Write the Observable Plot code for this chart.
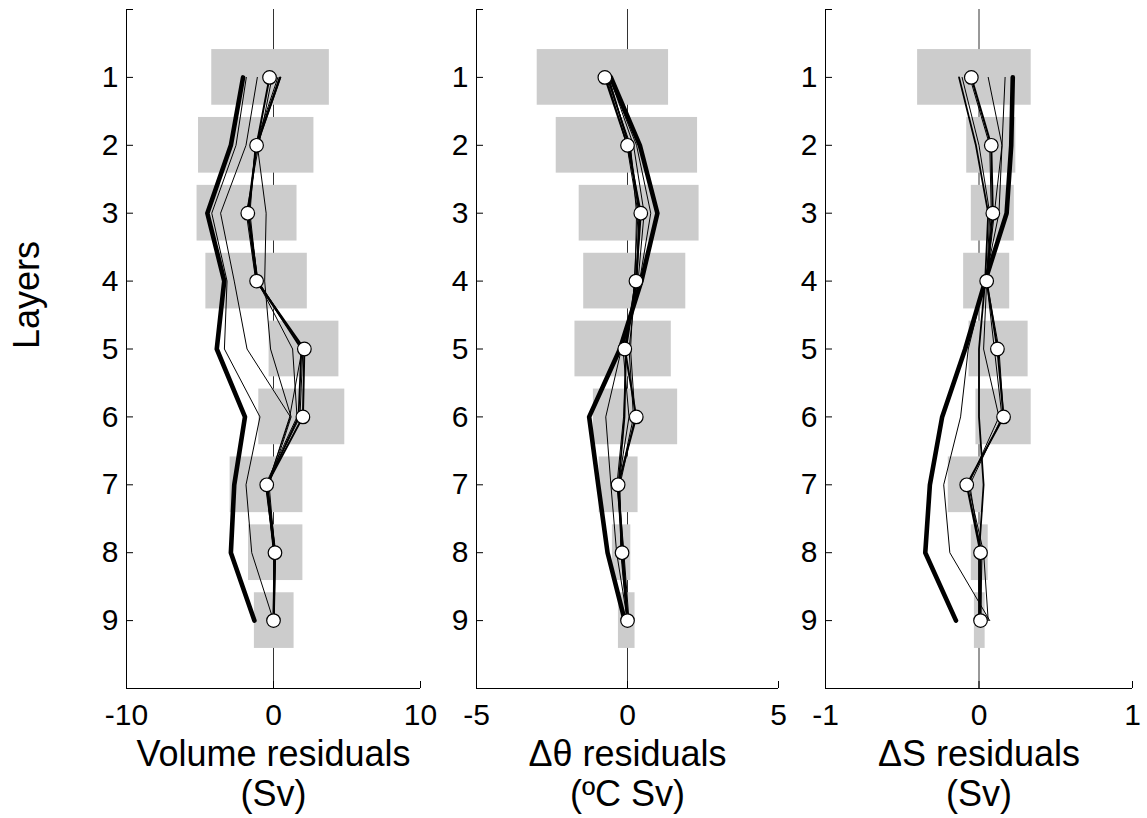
<!DOCTYPE html>
<html>
<head>
<meta charset="utf-8">
<script src="https://cdn.jsdelivr.net/npm/d3@7"></script>
<script src="https://cdn.jsdelivr.net/npm/@observablehq/plot@0.6"></script>
<style>
  html, body { margin: 0; padding: 0; background: #fff; }
  #wrap { position: relative; width: 1147px; height: 818px; overflow: hidden; }
  #wrap svg { position: absolute; top: 0; max-width: none; }
</style>
</head>
<body>
<div id="wrap"></div>
<script>
// ---------- data ----------
const layers = [1, 2, 3, 4, 5, 6, 7, 8, 9];
const layerTicks = [0, 1, 2, 3, 4, 5, 6, 7, 8, 9, 10];
const layerLabels = [1, 2, 3, 4, 5, 6, 7, 8, 9];

// Volume residuals (Sv)
const volTicks = [-10, 0, 10];
const volBarLo = [-4.2, -5.1, -5.2, -4.6, -0.3, -1.0, -2.95, -1.7, -1.3];
const volBarHi = [3.8, 2.75, 1.6, 2.3, 4.45, 4.85, 2.0, 2.0, 1.4];
const volThick = [-2.07, -2.9, -4.5, -3.35, -3.86, -1.94, -2.67, -2.9, -1.3];
const volCircle = [-0.27, -1.15, -1.75, -1.15, 2.1, 2.0, -0.46, 0.1, 0.0];
const volThinA = [-1.85, -2.55, -4.2, -3.16, -3.34, -0.92, -1.87, -1.48, 0.0];
const volThinB = [-1.1, -1.87, -3.6, -2.67, -1.8, 1.15, -0.4, 0.1, 0.0];
const volThinC1 = [0.5, -1.1, -0.5, -0.6, -0.2, 1.2, -0.3, 0.1, 0.0];
const volThinC2 = [0.3, -1.25, -1.6, -1.1, 1.3, 1.6, -0.55, 0.05, 0.0];
const volThinC3 = [-0.1, -1.0, -1.85, -1.2, 1.95, 1.1, -0.4, 0.15, 0.05];
const volThinC4 = [0.4, -1.2, -1.7, -1.05, 2.0, 1.8, -0.5, 0.0, 0.0];
const volMedium = [0.45, -1.15, -1.7, -1.1, 1.9, 1.7, -0.45, 0.05, 0.0];

// Δθ residuals (ºC Sv)
const thTicks = [-5, 0, 5];
const thBarLo = [-2.99, -2.36, -1.6, -1.45, -1.74, -1.13, -0.94, -0.5, -0.3];
const thBarHi = [1.36, 2.32, 2.37, 1.93, 1.45, 1.66, 0.35, 0.11, 0.25];
const thThick = [-0.55, 0.41, 0.99, 0.46, -0.25, -1.27, -0.97, -0.66, -0.09];
const thCircle = [-0.75, 0.0, 0.44, 0.28, -0.09, 0.29, -0.31, -0.18, 0.0];
const thThinB = [-0.6, 0.3, 0.77, 0.4, -0.2, -0.72, -0.55, -0.36, 0.0];
const thThinC1 = [-0.68, 0.1, 0.3, 0.25, -0.05, -0.13, -0.35, -0.15, 0.02];
const thThinC2 = [-0.62, 0.05, 0.38, 0.3, 0.05, 0.2, -0.28, -0.2, 0.0];
const thThinC3 = [-0.58, 0.2, 0.55, 0.35, -0.15, 0.05, -0.3, -0.12, 0.05];
const thThinC4 = [-0.7, -0.02, 0.35, 0.22, 0.1, 0.25, -0.25, -0.22, -0.02];
const thMedium = [-0.65, 0.05, 0.4, 0.3, -0.05, -0.1, -0.3, -0.15, 0.0];

// ΔS residuals (Sv)
const sTicks = [-1, 0, 1];
const sBarLo = [-0.40, -0.08, -0.05, -0.10, -0.065, -0.02, -0.20, -0.05, -0.03];
const sBarHi = [0.34, 0.24, 0.23, 0.20, 0.32, 0.34, 0.03, 0.06, 0.04];
const sThick = [0.22, 0.21, 0.18, 0.04, -0.09, -0.24, -0.32, -0.35, -0.15];
const sCircle = [-0.05, 0.08, 0.09, 0.05, 0.12, 0.16, -0.08, 0.01, 0.01];
const sThinB = [0.17, 0.15, 0.13, 0.04, -0.07, -0.12, -0.23, -0.19, 0.07];
const sThinC1 = [-0.11, 0.0, 0.07, 0.05, 0.03, 0.13, -0.07, 0.03, 0.06];
const sThinC2 = [0.06, 0.15, 0.1, 0.05, 0.1, 0.15, -0.06, 0.01, 0.0];
const sThinC3 = [-0.06, 0.07, 0.08, 0.05, 0.13, 0.16, -0.08, 0.02, 0.01];
const sMedium = [-0.13, -0.02, 0.06, 0.04, 0.0, 0.0, 0.03, 0.0, 0.0];

const FONT = "'Liberation Sans', Arial, Helvetica, sans-serif";

function rows(arr, name) {
  return layers.map((l, i) => ({layer: l, value: arr[i], series: name}));
}

function panel(cfg) {
  const bars = layers.map((l, i) => ({layer: l, lo: cfg.lo[i], hi: cfg.hi[i]}));
  const thin = cfg.thin.flatMap((a, k) => rows(a, "thin" + k));
  const circ = rows(cfg.circle, "circle");
  const marks = [
    Plot.ruleX([0], {stroke: "#333", strokeWidth: 1}),
    Plot.rect(bars, {x1: "lo", x2: "hi", y1: d => d.layer - 0.41, y2: d => d.layer + 0.41, fill: "#cccccc"}),
    Plot.line(thin, {x: "value", y: "layer", z: "series", stroke: "#000", strokeWidth: 1}),
    Plot.line(rows(cfg.medium, "medium"), {x: "value", y: "layer", stroke: "#000", strokeWidth: 1.8}),
    Plot.line(rows(cfg.thick, "thick"), {x: "value", y: "layer", stroke: "#000", strokeWidth: 4.6, strokeLinecap: "round"}),
    Plot.line(circ, {x: "value", y: "layer", stroke: "#000", strokeWidth: 2}),
    Plot.dot(circ, {x: "value", y: "layer", r: 6.8, fill: "#fff", stroke: "#000", strokeWidth: 1.2}),
    Plot.ruleX([cfg.domain[0]], {stroke: "#000", strokeWidth: 1}),
    Plot.ruleY([10], {stroke: "#000", strokeWidth: 1}),
    Plot.axisY({ticks: layerTicks, tickSize: -7, tickFormat: () => "", label: null}),
    Plot.axisY({ticks: layerLabels, tickSize: 0, tickPadding: 8, fontSize: 30, tickFormat: d => String(d), label: null}),
    Plot.axisX({ticks: cfg.ticks, tickSize: -7, tickFormat: () => "", label: null}),
    Plot.axisX({ticks: cfg.ticks, tickSize: 0, tickPadding: 15, fontSize: 30, tickFormat: d => String(d), label: null}),
    Plot.text([cfg.title], {frameAnchor: "bottom", lineAnchor: "top", dy: 49, fontSize: 36, lineHeight: 1.12})
  ];
  if (cfg.ylabel) {
    marks.push(Plot.text([cfg.ylabel], {frameAnchor: "left", dx: -99, rotate: -90, fontSize: 36}));
  }
  const svg = Plot.plot({
    width: cfg.width,
    height: 818,
    marginLeft: cfg.mL,
    marginRight: cfg.mR,
    marginTop: 9,
    marginBottom: 130,
    x: {domain: cfg.domain, axis: null},
    y: {domain: [0, 10], reverse: true, axis: null},
    style: {fontFamily: FONT, background: "transparent", overflow: "visible", color: "#000"},
    marks
  });
  svg.style.left = cfg.left + "px";
  return svg;
}

const wrap = document.getElementById("wrap");
wrap.append(panel({
  left: 0, width: 430, mL: 126, mR: 10, domain: [-10, 10], ticks: volTicks,
  lo: volBarLo, hi: volBarHi, thick: volThick, circle: volCircle, medium: volMedium,
  thin: [volThinA, volThinB, volThinC1, volThinC2, volThinC3, volThinC4],
  title: "Volume residuals\n(Sv)", ylabel: "Layers"
}));
wrap.append(panel({
  left: 430, width: 360, mL: 46, mR: 12, domain: [-5, 5], ticks: thTicks,
  lo: thBarLo, hi: thBarHi, thick: thThick, circle: thCircle, medium: thMedium,
  thin: [thThinB, thThinC1, thThinC2, thThinC3, thThinC4],
  title: "\u0394\u03b8 residuals\n(\u00baC Sv)"
}));
wrap.append(panel({
  left: 790, width: 357, mL: 35, mR: 15, domain: [-1, 1], ticks: sTicks,
  lo: sBarLo, hi: sBarHi, thick: sThick, circle: sCircle, medium: sMedium,
  thin: [sThinB, sThinC1, sThinC2, sThinC3],
  title: "\u0394S residuals\n(Sv)"
}));
</script>
</body>
</html>
